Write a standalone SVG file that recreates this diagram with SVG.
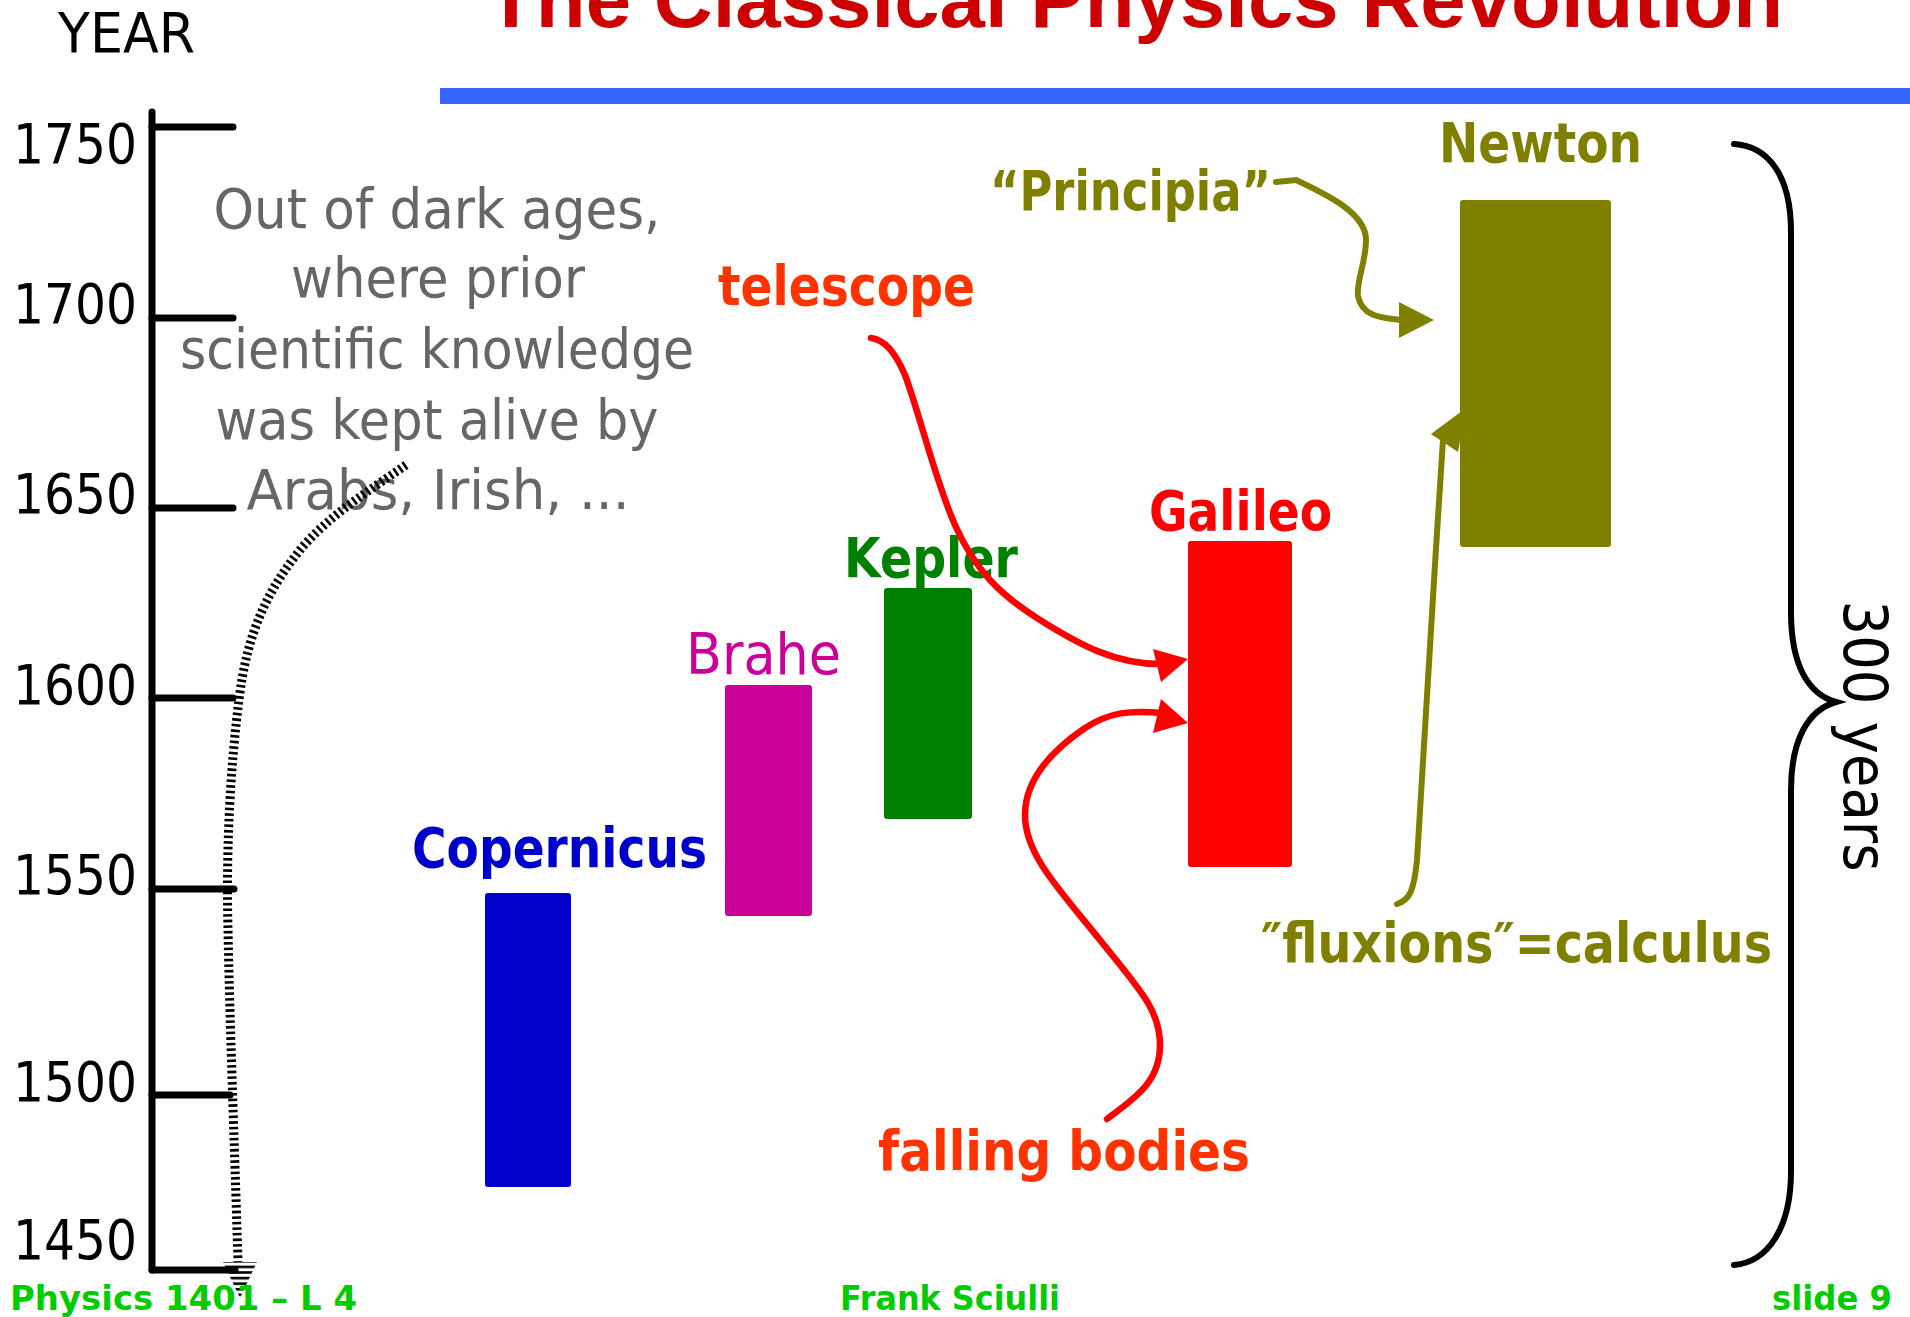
<svg xmlns="http://www.w3.org/2000/svg" width="1910" height="1317" viewBox="0 0 1910 1317">
  <defs>
    <style>
      text { font-family: "DejaVu Sans", Verdana, sans-serif; }
      .title { font-family: "Liberation Sans", Arial, sans-serif; font-weight: bold; font-size: 80px; fill: #CC0000; }
      .year { font-size: 55px; fill: #000000; }
      .note { font-size: 55px; fill: #666666; text-anchor: middle; }
      .lbl { font-size: 56px; font-weight: bold; }
      .foot { font-size: 34px; font-weight: bold; fill: #00CC00; }
      .axis { stroke: #000000; stroke-width: 7; fill: none; stroke-linecap: round; }
      .red { stroke: #FF0000; stroke-width: 6.5; fill: none; stroke-linecap: round; }
      .olive { stroke: #808000; stroke-width: 6; fill: none; stroke-linecap: round; }
      .hatch { stroke: #000000; stroke-width: 9; fill: none; stroke-dasharray: 2.6 3; }
      .brace { stroke: #000000; stroke-width: 6; fill: none; stroke-linecap: round; }
    </style>
    <pattern id="stripes" patternUnits="userSpaceOnUse" width="6" height="5.6">
      <rect x="0" y="0" width="6" height="2.6" fill="#000000"/>
    </pattern>
  </defs>

  <rect x="0" y="0" width="1910" height="1317" fill="#FFFFFF"/>

  <!-- title and header -->
  <g id="title">
    <text class="title" x="486" y="27" textLength="1297" lengthAdjust="spacingAndGlyphs">The Classical Physics Revolution</text>
    <rect x="440" y="88" width="1470" height="16" fill="#3366FF"/>
  </g>

  <!-- time axis -->
  <g id="axis">
    <text class="year" x="58" y="52" font-size="58" textLength="137" lengthAdjust="spacingAndGlyphs">YEAR</text>
    <line class="axis" x1="152" y1="112" x2="152" y2="1270"/>
    <line class="axis" x1="152" y1="127" x2="233" y2="127"/>
    <line class="axis" x1="152" y1="318" x2="233" y2="318"/>
    <line class="axis" x1="152" y1="508" x2="233" y2="508"/>
    <line class="axis" x1="152" y1="698" x2="233" y2="698"/>
    <line class="axis" x1="152" y1="889" x2="234" y2="889"/>
    <line class="axis" x1="152" y1="1095" x2="230" y2="1095"/>
    <line class="axis" x1="152" y1="1270" x2="235" y2="1270"/>
    <text class="year" x="13" y="163" textLength="124" lengthAdjust="spacingAndGlyphs">1750</text>
    <text class="year" x="13" y="323" textLength="124" lengthAdjust="spacingAndGlyphs">1700</text>
    <text class="year" x="13" y="513" textLength="124" lengthAdjust="spacingAndGlyphs">1650</text>
    <text class="year" x="13" y="704" textLength="124" lengthAdjust="spacingAndGlyphs">1600</text>
    <text class="year" x="13" y="894" textLength="124" lengthAdjust="spacingAndGlyphs">1550</text>
    <text class="year" x="13" y="1101" textLength="124" lengthAdjust="spacingAndGlyphs">1500</text>
    <text class="year" x="13" y="1259" textLength="124" lengthAdjust="spacingAndGlyphs">1450</text>
  </g>

  <!-- note -->
  <g id="dark-ages-note">
    <text class="note" x="437" y="228" textLength="447" lengthAdjust="spacingAndGlyphs">Out of dark ages,</text>
    <text class="note" x="438" y="297" textLength="294" lengthAdjust="spacingAndGlyphs">where prior</text>
    <text class="note" x="437" y="368" textLength="514" lengthAdjust="spacingAndGlyphs">scientific knowledge</text>
    <text class="note" x="437" y="439" textLength="443" lengthAdjust="spacingAndGlyphs">was kept alive by</text>
    <text class="note" x="438" y="509" textLength="383" lengthAdjust="spacingAndGlyphs">Arabs, Irish, ...</text>
  </g>

  <!-- scientists -->
  <g id="copernicus">
    <rect x="485" y="893" width="86" height="294" rx="3" fill="#0000CC"/>
    <text class="lbl" x="412" y="867" font-size="57" fill="#0000CC" textLength="295" lengthAdjust="spacingAndGlyphs">Copernicus</text>
  </g>
  <g id="brahe">
    <rect x="725" y="685" width="87" height="231" rx="3" fill="#CC0099"/>
    <text x="686" y="674" font-size="57" fill="#CC0099" textLength="155" lengthAdjust="spacingAndGlyphs">Brahe</text>
  </g>
  <g id="kepler">
    <rect x="884" y="588" width="88" height="231" rx="3" fill="#008000"/>
    <text class="lbl" x="844" y="577" font-size="55" fill="#008000" textLength="174" lengthAdjust="spacingAndGlyphs">Kepler</text>
  </g>
  <g id="galileo">
    <rect x="1188" y="541" width="104" height="326" rx="3" fill="#FF0000"/>
    <text class="lbl" x="1149" y="530" fill="#FF0000" textLength="183" lengthAdjust="spacingAndGlyphs">Galileo</text>
  </g>
  <g id="newton">
    <rect x="1460" y="200" width="151" height="347" rx="3" fill="#808000"/>
    <text class="lbl" x="1439" y="162" font-size="55" fill="#808000" textLength="203" lengthAdjust="spacingAndGlyphs">Newton</text>
  </g>
  <g id="principia">
    <text class="lbl" x="990" y="210" font-size="55" fill="#808000" textLength="281" lengthAdjust="spacingAndGlyphs">“Principia”</text>
  </g>
  <g id="telescope">
    <text class="lbl" x="718" y="305" font-size="54" fill="#FF3300" textLength="257" lengthAdjust="spacingAndGlyphs">telescope</text>
  </g>
  <g id="falling-bodies">
    <text class="lbl" x="878" y="1170" font-size="55" fill="#FF3300" textLength="372" lengthAdjust="spacingAndGlyphs">falling bodies</text>
  </g>
  <g id="fluxions">
    <text class="lbl" x="1261" y="962" fill="#808000" textLength="511" lengthAdjust="spacingAndGlyphs">″fluxions″=calculus</text>
  </g>

  <!-- brace -->
  <g id="span-300-years">
    <path class="brace" d="M1734,144 C1768,146 1791,175 1791,232 L1791,612 C1791,665 1808,694 1836,702 C1808,710 1791,740 1791,790 L1791,1171 C1791,1228 1768,1262 1734,1265"/>
    <text x="0" y="0" font-size="60" text-anchor="middle" transform="translate(1844,736) rotate(90)" textLength="271" lengthAdjust="spacingAndGlyphs">300 years</text>
  </g>

  <!-- connectors -->
  <g id="connectors">
    <path class="hatch" d="M406,465 C370,490 328,516 300,550 C268,590 247,632 239,700 C230,770 226,850 228,930 C230,1030 234,1130 238,1262"/>
    <polygon points="223,1262 257,1262 240,1298" fill="url(#stripes)"/>

    <path class="red" d="M871,338 C885,340 895,352 905,375 C920,415 935,480 955,525 C975,570 1000,595 1040,620 C1080,645 1115,664 1160,664"/>
    <polygon points="1188,659 1153,649 1161,682" fill="#FF0000"/>

    <path class="red" d="M1107,1119 C1135,1098 1160,1082 1160,1045 C1160,1010 1140,990 1100,940 C1060,890 1025,855 1025,815 C1025,775 1060,745 1085,728 C1110,712 1130,710 1162,713"/>
    <polygon points="1188,723 1161,699 1153,733" fill="#FF0000"/>

    <path class="olive" d="M1276,182 L1296,180 C1330,196 1366,214 1366,240 C1366,262 1356,282 1358,296 C1362,318 1385,318 1402,320"/>
    <polygon points="1434,320 1399,302 1399,338" fill="#808000"/>

    <path class="olive" d="M1397,904 C1410,900 1414,890 1417,860 C1422,800 1432,600 1443,440"/>
    <polygon points="1431,434 1466,408 1458,452" fill="#808000"/>
  </g>

  <!-- footer -->
  <g id="footer">
    <text class="foot" x="10" y="1310" textLength="347" lengthAdjust="spacingAndGlyphs">Physics 1401 – L 4</text>
    <text class="foot" x="840" y="1310" textLength="220" lengthAdjust="spacingAndGlyphs">Frank Sciulli</text>
    <text class="foot" x="1772" y="1310" textLength="120" lengthAdjust="spacingAndGlyphs">slide 9</text>
  </g>
</svg>
